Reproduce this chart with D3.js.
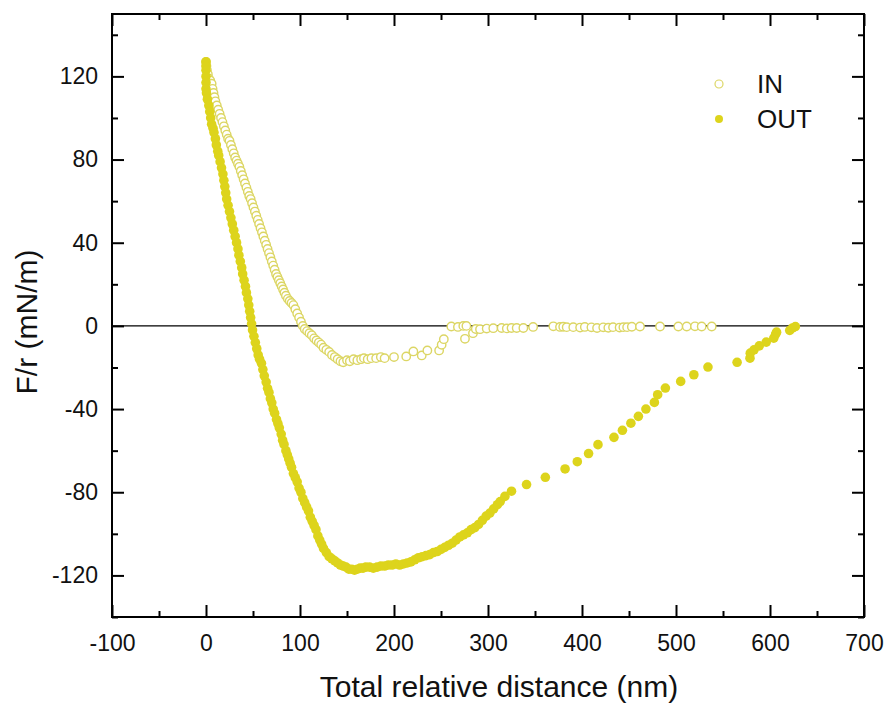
<!DOCTYPE html>
<html>
<head>
<meta charset="utf-8">
<script src="https://cdn.jsdelivr.net/npm/d3@7"></script>
<style>
  body { margin: 0; background: #fff; }
  svg { display: block; font-family: "Liberation Sans", Arial, sans-serif; }
</style>
</head>
<body>
<div class="canvas"></div>
<script>
// ---- data ----
const xMajor = [-100, 0, 100, 200, 300, 400, 500, 600, 700];
const xMinor = [-50, 50, 150, 250, 350, 450, 550, 650];
const yMajor = [-120, -80, -40, 0, 40, 80, 120];
const yMinor = [-140, -100, -60, -20, 20, 60, 100, 140];

// OUT (filled) : distance nm, F/r mN/m
const outDist = [0, 0, 0, 0, 0, 0, 0.5, 1.5, 3, 4, 5, 6, 7.5, 8.5, 10, 11, 12.5, 13.5, 15, 16.5,
  18, 19, 20, 21, 22, 23.5, 25, 26.5, 28, 29.5, 31, 32.5, 34, 35, 36.5, 38, 39, 40.5, 42, 43,
  44.5, 45.5, 46.5, 47.5, 48.5, 49.5, 51, 52.5, 54, 55.5, 57, 59, 60.5, 62, 64, 65.5, 67, 68.5, 70, 71.5,
  73, 75, 76.5, 78, 80, 81.5, 83, 85, 86.5, 88, 89.5, 91, 93, 95, 97, 99, 101, 103, 105, 107,
  109, 111, 113, 115, 117, 119, 121, 123, 125, 128, 131, 134, 137, 140, 143, 146, 149, 152, 155, 158,
  161, 164, 167, 170, 174, 178, 182, 186, 190, 194, 198, 202, 206, 210, 214, 218, 222, 226, 230, 234,
  238, 242, 246, 250, 254, 258, 262, 266, 270, 274, 278, 282, 286, 290, 294, 298, 302, 306, 310, 313,
  318, 325, 341, 361, 382, 395, 407, 417, 434, 443, 452, 460, 468, 477, 480.5, 488.7, 505, 519, 534, 565,
  578.7, 579, 583, 588.6, 596, 604, 606, 607, 621, 624, 627];
const outForce = [127, 125, 123, 120, 117, 114, 112, 109, 106, 103, 100, 97, 95, 93, 90, 87, 84, 82, 79, 76,
  73, 70, 67, 64, 61, 58, 55, 52, 49, 46, 43, 40, 37, 34, 31, 28, 25, 22, 19, 16,
  13, 10, 7, 4, 1, -2, -5, -8, -11, -14, -16, -18, -21, -24, -27, -30, -32, -35, -37, -40,
  -42, -45, -47, -49, -52, -55, -57, -60, -62, -64, -66, -68, -71, -73, -75, -78, -80, -83, -85, -87,
  -89, -92, -94, -96, -98, -101, -103, -105, -107, -109, -111, -112, -113, -114, -115, -115.5, -116, -117, -117, -117.5,
  -117, -116.5, -116.5, -116, -116, -116.5, -116, -115.5, -115.5, -115, -115, -114.5, -115, -114.5, -114, -113.5, -112.5, -111.5, -111, -110.5,
  -110, -109, -108.5, -107.5, -106.5, -105.5, -104.5, -103, -101.5, -100.5, -99.5, -98, -97, -95.5, -93.5, -91.5, -90, -88, -86, -84.5,
  -82, -79.5, -76.3, -72.8, -68.8, -65.3, -61.4, -57.1, -53.6, -50.2, -46.8, -43.5, -40, -36.8, -33.1, -29.9, -26.7, -23.5, -19.8, -17.5,
  -15.5, -13.1, -11.5, -9.6, -7.8, -5.9, -4, -3, -2.2, -1, -0.3];

// IN (open circles)
const inDist = [0, 0.5, 1, 2, 3, 4.5, 6, 7, 8, 9, 10, 11.5, 13, 14.5, 16, 17.5, 19, 20.5, 22, 23.5,
  25, 26.5, 28, 29.5, 31, 32.5, 34, 35.5, 37, 38.5, 40, 41.5, 43, 44.5, 46, 47.5, 49, 50.5, 52, 53.5,
  55, 56.5, 58, 59.5, 61, 62.5, 64, 65.5, 67, 68.5, 70, 71.5, 73, 74.5, 76, 77.5, 79, 80.5, 82, 83.5,
  85, 87, 89, 91, 93, 95, 97, 99, 101, 103, 105, 107.5, 110, 112.5, 115, 117.5, 120, 122.5, 125, 128,
  131, 134, 137, 140, 143, 146, 150, 153, 157, 161, 165, 168, 172, 176, 181, 186, 190, 200, 213, 220.6,
  229.5, 235.5, 248, 250.7, 253, 261, 268, 273.7, 275.5, 277, 284, 287, 291.5, 298.6, 305.6, 314.5, 320, 325, 330.5, 337.6,
  348, 369.5, 376.6, 380, 383.7, 390.7, 398, 403, 410, 416, 422.6, 428, 433, 440, 444, 448, 453, 461.7, 483, 502.5,
  511.4, 520.2, 527.3, 538];
const inForce = [127, 125, 123, 121, 119, 118, 116.5, 114, 112, 110, 108, 106, 104, 102, 100, 98, 96, 94, 92, 90,
  89, 87, 85, 83, 81, 79.5, 78, 76.5, 74.5, 72.5, 70.5, 68.5, 66.5, 64.5, 62.5, 61, 59, 57, 55, 53,
  51, 49, 47, 45, 43, 41, 39, 37, 35, 33, 31, 29, 27, 25, 23.5, 22, 20.5, 19, 17.5, 16,
  14.5, 13, 12, 11, 10, 8, 6, 4, 2, 0, -1.5, -2.5, -3.5, -4.5, -6, -7, -8, -9, -10.5, -11.5,
  -12.5, -14, -15, -16, -17, -17.5, -16.5, -17, -16, -16.5, -16, -15.5, -16, -15.5, -15.5, -15, -15.5, -15, -14.7, -12.3,
  -14.2, -11.8, -11.8, -9.1, -6.4, -0.3, -0.5, 0, -6.2, 0, -3.5, -1.5, -1.6, -1.3, -1.1, -1, -1.2, -1, -1, -1,
  -0.5, -0.2, -0.5, -0.4, -0.6, -0.6, -0.8, -0.5, -0.7, -1, -0.7, -0.9, -0.6, -0.8, -0.6, -0.6, -0.4, -0.3, -0.3, -0.3,
  -0.3, -0.2, -0.3, -0.3];

const seriesNames = ['IN', 'OUT'];

// ---- layout ----
const width = 884, height = 706;
const frame = { left: 112, right: 864, top: 14, bottom: 617 };
const fillOut = '#ddd41c';
const strokeIn = '#dcd664';

const svg = d3.select('.canvas').append('svg')
  .attr('width', width)
  .attr('height', height);

const x = d3.scaleLinear().domain([-100, 700]).range([frame.left, frame.right]);
const y = d3.scaleLinear().domain([-140, 150]).range([frame.bottom, frame.top]);

// plain hyphen for negatives, like the original
const plain = d => String(d);

// zero line
svg.append('line')
  .attr('x1', frame.left).attr('x2', frame.right)
  .attr('y1', y(0)).attr('y2', y(0))
  .attr('stroke', '#000').attr('stroke-width', 1.2);

// points
const inPts = d3.zip(inDist, inForce);
const outPts = d3.zip(outDist, outForce);

svg.append('g').selectAll('circle')
  .data(inPts)
  .enter().append('circle')
  .attr('cx', d => x(d[0]))
  .attr('cy', d => y(d[1]))
  .attr('r', 4.2)
  .attr('fill', '#fff')
  .attr('stroke', strokeIn)
  .attr('stroke-width', 1.4);

svg.append('g').selectAll('circle')
  .data(outPts)
  .enter().append('circle')
  .attr('cx', d => x(d[0]))
  .attr('cy', d => y(d[1]))
  .attr('r', 4.8)
  .attr('fill', fillOut);

// axes (ticks point inward on all four sides)
function styleAxis(g) {
  g.select('.domain').remove();
  g.selectAll('line').attr('stroke', '#000').attr('stroke-width', 2);
  g.selectAll('text').attr('fill', '#111').attr('font-size', 23);
}

svg.append('g').attr('transform', `translate(0,${frame.bottom})`)
  .call(d3.axisBottom(x).tickValues(xMajor).tickSize(-12).tickPadding(18).tickFormat(plain))
  .call(styleAxis)
  .selectAll('text').attr('y', 18);
svg.append('g').attr('transform', `translate(0,${frame.bottom})`)
  .call(d3.axisBottom(x).tickValues(xMinor).tickSize(-6).tickFormat(''))
  .call(styleAxis);

svg.append('g').attr('transform', `translate(0,${frame.top})`)
  .call(d3.axisTop(x).tickValues(xMajor).tickSize(-12).tickFormat(''))
  .call(styleAxis);
svg.append('g').attr('transform', `translate(0,${frame.top})`)
  .call(d3.axisTop(x).tickValues(xMinor).tickSize(-6).tickFormat(''))
  .call(styleAxis);

svg.append('g').attr('transform', `translate(${frame.left},0)`)
  .call(d3.axisLeft(y).tickValues(yMajor).tickSize(-12).tickPadding(14).tickFormat(plain))
  .call(styleAxis);
svg.append('g').attr('transform', `translate(${frame.left},0)`)
  .call(d3.axisLeft(y).tickValues(yMinor).tickSize(-6).tickFormat(''))
  .call(styleAxis);

svg.append('g').attr('transform', `translate(${frame.right},0)`)
  .call(d3.axisRight(y).tickValues(yMajor).tickSize(-12).tickFormat(''))
  .call(styleAxis);
svg.append('g').attr('transform', `translate(${frame.right},0)`)
  .call(d3.axisRight(y).tickValues(yMinor).tickSize(-6).tickFormat(''))
  .call(styleAxis);

// frame
svg.append('rect')
  .attr('x', frame.left).attr('y', frame.top)
  .attr('width', frame.right - frame.left)
  .attr('height', frame.bottom - frame.top)
  .attr('fill', 'none')
  .attr('stroke', '#000')
  .attr('stroke-width', 2);

// axis titles
svg.append('text')
  .attr('x', (frame.left + frame.right) / 2 + 11)
  .attr('y', 697)
  .attr('text-anchor', 'middle')
  .attr('font-size', 30)
  .attr('fill', '#111')
  .text('Total relative distance (nm)');

svg.append('text')
  .attr('transform', 'translate(37,322) rotate(-90)')
  .attr('text-anchor', 'middle')
  .attr('font-size', 30)
  .attr('fill', '#111')
  .text('F/r (mN/m)');

// legend
const legend = svg.append('g');
seriesNames.forEach((name, i) => {
  const ly = 84 + i * 35;
  legend.append('circle')
    .attr('cx', 719).attr('cy', ly).attr('r', 4)
    .attr('fill', i === 0 ? '#fff' : fillOut)
    .attr('stroke', i === 0 ? strokeIn : 'none')
    .attr('stroke-width', 1.2);
  legend.append('text')
    .attr('x', 757).attr('y', ly + 9)
    .attr('font-size', 26)
    .attr('fill', '#111')
    .text(name);
});
</script>
</body>
</html>
